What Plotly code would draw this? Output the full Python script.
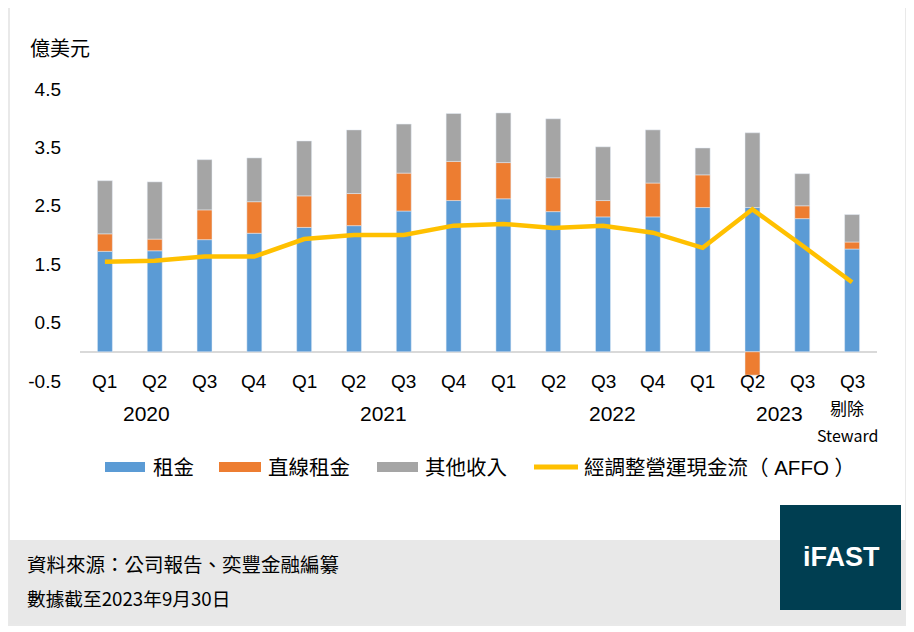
import plotly.graph_objects as go

# Data (億美元)
quarters = ['Q1', 'Q2', 'Q3', 'Q4', 'Q1', 'Q2', 'Q3', 'Q4',
            'Q1', 'Q2', 'Q3', 'Q4', 'Q1', 'Q2', 'Q3', 'Q3']
rent = [1.72, 1.73, 1.92, 2.03, 2.13, 2.16, 2.41, 2.59,
        2.62, 2.40, 2.31, 2.31, 2.47, 2.47, 2.28, 1.76]
straight_line_rent = [0.30, 0.20, 0.51, 0.54, 0.54, 0.55, 0.65, 0.67,
                      0.62, 0.58, 0.28, 0.58, 0.56, -0.40, 0.22, 0.12]
other_income = [0.91, 0.98, 0.86, 0.75, 0.94, 1.09, 0.84, 0.82,
                0.85, 1.01, 0.92, 0.91, 0.46, 1.28, 0.55, 0.47]
affo = [1.54, 1.56, 1.63, 1.63, 1.93, 2.00, 2.00, 2.16,
        2.19, 2.12, 2.16, 2.04, 1.78, 2.44, 1.82, 1.19]
years = ['2020', '2021', '2022', '2023']
year_pos = [0.83, 5.6, 10.2, 13.55]
y_ticks = [-0.5, 0.5, 1.5, 2.5, 3.5, 4.5]

x = list(range(len(quarters)))

BLUE = '#5B9BD5'
ORANGE = '#ED7D31'
GRAY = '#A5A5A5'
YELLOW = '#FFC000'
FONT = 'Liberation Sans, Noto Sans CJK TC, sans-serif'
CJK = 'Noto Sans CJK TC, sans-serif'

# the page body has an 8px margin, so the figure is drawn 8px in from the window edge
OFF = 8
W, H = 914 - OFF, 632 - OFF
# plot area in window pixels: x 80..877, y 89..381
L, R, T, B = 80, 877, 89, 381


def X(px):
    return (px - L) / (R - L)


def Y(py):
    return (B - py) / (B - T)


fig = go.Figure()
fig.add_trace(go.Bar(x=x, y=rent, name='租金', marker_color=BLUE, width=0.3))
fig.add_trace(go.Bar(x=x, y=straight_line_rent, name='直線租金', marker_color=ORANGE, width=0.3))
fig.add_trace(go.Bar(x=x, y=other_income, name='其他收入', marker_color=GRAY, width=0.3))
fig.add_trace(go.Scatter(x=x, y=affo, name='經調整營運現金流（AFFO）', mode='lines',
                         line=dict(color=YELLOW, width=4.5)))

shapes = [
    # outer frame
    dict(type='rect', xref='paper', yref='paper', x0=X(9), x1=X(906), y0=Y(625), y1=Y(7),
         line=dict(color='#E9E9E9', width=2), fillcolor='rgba(0,0,0,0)', layer='below'),
    # footer band
    dict(type='rect', xref='paper', yref='paper', x0=X(9), x1=X(906), y0=Y(624), y1=Y(540),
         line=dict(width=0), fillcolor='#E8E8E8', layer='below'),
    # logo box
    dict(type='rect', xref='paper', yref='paper', x0=X(780), x1=X(901), y0=Y(610), y1=Y(505),
         line=dict(width=0), fillcolor='#003E51', layer='above'),
    # legend swatches
    dict(type='rect', xref='paper', yref='paper', x0=X(105), x1=X(145), y0=Y(472), y1=Y(462),
         line=dict(width=0), fillcolor=BLUE),
    dict(type='rect', xref='paper', yref='paper', x0=X(219), x1=X(261), y0=Y(472), y1=Y(462),
         line=dict(width=0), fillcolor=ORANGE),
    dict(type='rect', xref='paper', yref='paper', x0=X(377), x1=X(418), y0=Y(472), y1=Y(462),
         line=dict(width=0), fillcolor=GRAY),
    dict(type='line', xref='paper', yref='paper', x0=X(534), x1=X(578), y0=Y(467), y1=Y(467),
         line=dict(color=YELLOW, width=5)),
]

annotations = []
for i, q in enumerate(quarters):
    annotations.append(dict(x=i, y=0, xref='x', yref='paper', text=q, showarrow=False,
                            xanchor='center', yanchor='middle',
                            font=dict(family=FONT, size=19, color='#000000')))
for yr, pos in zip(years, year_pos):
    annotations.append(dict(x=pos, y=Y(413), xref='x', yref='paper', text=yr, showarrow=False,
                            xanchor='center', yanchor='middle',
                            font=dict(family=FONT, size=21, color='#000000')))
annotations.append(dict(x=14.9, y=Y(407), xref='x', yref='paper', text='剔除', showarrow=False,
                        xanchor='center', yanchor='middle', font=dict(family=CJK, size=17, color='#000000')))
annotations.append(dict(x=14.9, y=Y(435), xref='x', yref='paper', text='Steward', showarrow=False,
                        xanchor='center', yanchor='middle', font=dict(family=CJK, size=16, color='#000000')))

legend_items = [('租金', 151), ('直線租金', 266), ('其他收入', 423), ('經調整營運現金流（ AFFO ）', 582)]
for txt, px in legend_items:
    annotations.append(dict(x=X(px), y=Y(467), xref='paper', yref='paper', text=txt, showarrow=False,
                            xanchor='left', yanchor='middle',
                            font=dict(family=FONT, size=20.5, color='#000000')))

annotations += [
    dict(x=X(28), y=Y(47), xref='paper', yref='paper', text='億美元', showarrow=False,
         xanchor='left', yanchor='middle', font=dict(family=CJK, size=20, color='#000000')),
    dict(x=X(25), y=Y(563), xref='paper', yref='paper', text='資料來源：公司報告、奕豐金融編纂',
         showarrow=False, xanchor='left', yanchor='middle', font=dict(family=CJK, size=19.5, color='#000000')),
    dict(x=X(25), y=Y(597), xref='paper', yref='paper', text='數據截至2023年9月30日',
         showarrow=False, xanchor='left', yanchor='middle', font=dict(family=CJK, size=18.7, color='#000000')),
    dict(x=X(841), y=Y(557), xref='paper', yref='paper', text='<b>iFAST</b>',
         showarrow=False, xanchor='center', yanchor='middle',
         font=dict(family='Liberation Sans, Arial, sans-serif', size=27, color='#FFFFFF')),
]

fig.update_layout(
    width=W, height=H,
    margin=dict(l=L - OFF, r=W - (R - OFF), t=T - OFF, b=H - (B - OFF)),
    barmode='relative',
    showlegend=False,
    paper_bgcolor='white', plot_bgcolor='white',
    shapes=shapes,
    annotations=annotations,
    xaxis=dict(range=[-0.5, 15.5], showticklabels=False, showgrid=False, zeroline=False,
               showline=False, fixedrange=True),
    yaxis=dict(range=[-0.5001, 4.5001], tickvals=y_ticks, ticktext=[f'{v:.1f}' for v in y_ticks],
               showgrid=False, zeroline=True, zerolinecolor='#D9D9D9', zerolinewidth=2,
               showline=False, ticks='', ticklabelstandoff=18,
               tickfont=dict(family=FONT, size=19, color='#000000')),
)

fig.write_html('out.html')
